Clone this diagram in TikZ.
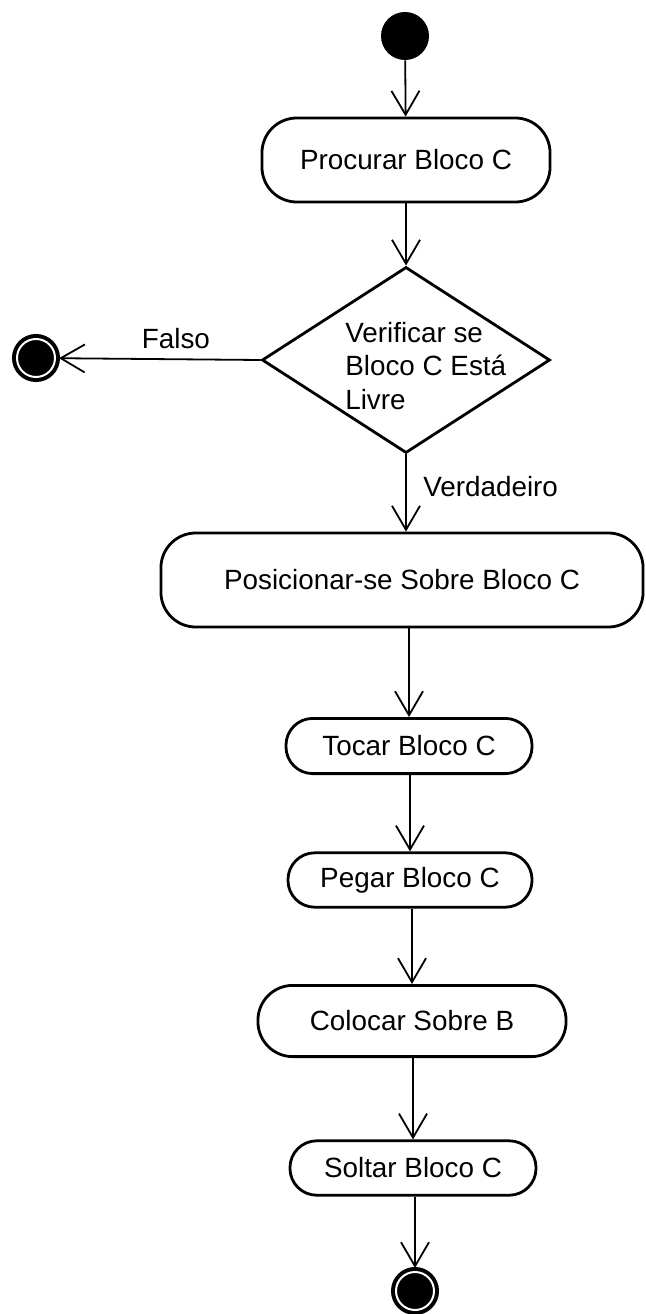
\documentclass[tikz,border=0pt]{standalone}
\usepackage{fontspec}
\setmainfont{Liberation Sans}
\usetikzlibrary{shapes.geometric,arrows.meta}
\tikzset{
blackvertexv1/.style={circle, draw=none, fill=black!100, inner sep=0pt, minimum size= 1.2cm},
endvertexv1/.style={circle, draw=black!100, fill=black!100, line width=0.1cm, double=white, double distance=0.05cm, inner sep=0pt, minimum size= 0.95cm, outer sep=0.1cm},
actionnodev1/.style={rectangle, rounded corners=0.87cm, draw=black!100, fill=white, line width=0.07cm, inner sep=0pt},
actionnodev2/.style={rectangle, rounded corners=0.67cm, draw=black!100, fill=white, line width=0.07cm, inner sep=0pt},
decisionnodev1/.style={diamond, draw=black!100, fill=white, line width=0.07cm, inner sep=0pt, minimum width= 7.2cm, minimum height = 4.65cm},
labeltextv1/.style={inner sep=0pt},
flowline/.style={black, line width=0.045cm, -{Straight Barb[length=0.6cm,width=0.7cm]}},
}

\begin{document}
\begin{tikzpicture}[x=0.025cm, y=-0.025cm, font=\fontsize{19.8}{23.5}\selectfont]
  \useasboundingbox (0,0) rectangle (645,1314);
  \node[blackvertexv1] at (405,36) (ini) {};
  \node[actionnodev1, minimum width=7.2cm, minimum height=2.1cm] at (406,160) (proc) {Procurar Bloco C};
  \node[decisionnodev1] at (406,360) (verif) {};
  \node[labeltextv1, anchor=west, align=left] at (345,366) (veriftxt) {Verificar se\\Bloco C Está\\Livre};
  \node[endvertexv1] at (36,358) (fimfalso) {};
  \node[actionnodev1, minimum width=12.05cm, minimum height=2.35cm] at (402,580) (posic) {Posicionar-se Sobre Bloco C};
  \node[actionnodev2, minimum width=6.15cm, minimum height=1.38cm] at (409,746) (tocar) {Tocar Bloco C};
  \node[actionnodev2, minimum width=6.1cm, minimum height=1.36cm] at (410,880) (pegar) {Pegar Bloco C};
  \node[actionnodev1, minimum width=7.7cm, minimum height=1.78cm] at (412,1021) (colocar) {Colocar Sobre B};
  \node[actionnodev2, minimum width=6.15cm, minimum height=1.36cm] at (413,1168) (soltar) {Soltar Bloco C};
  \node[endvertexv1] at (415,1291) (fim) {};

  \draw[flowline] (ini) to (proc);
  \draw[flowline] (proc) to (verif);
  \draw[flowline] (verif.west) to node[labeltextv1, above=0.25cm, pos=0.42] (falso) {Falso} (fimfalso);
  \draw[flowline] (verif.south) to (posic.north -| verif.south);
  \node[labeltextv1, anchor=west] at (423,487) (verd) {Verdadeiro};
  \draw[flowline] (posic.south -| tocar.north) to (tocar.north);
  \draw[flowline] (tocar.south -| pegar.north) to (pegar.north);
  \draw[flowline] (pegar.south -| colocar.north) to (colocar.north);
  \draw[flowline] (colocar.south -| soltar.north) to (soltar.north);
  \draw[flowline] (soltar.south -| fim) to (fim);
\end{tikzpicture}
\end{document}
